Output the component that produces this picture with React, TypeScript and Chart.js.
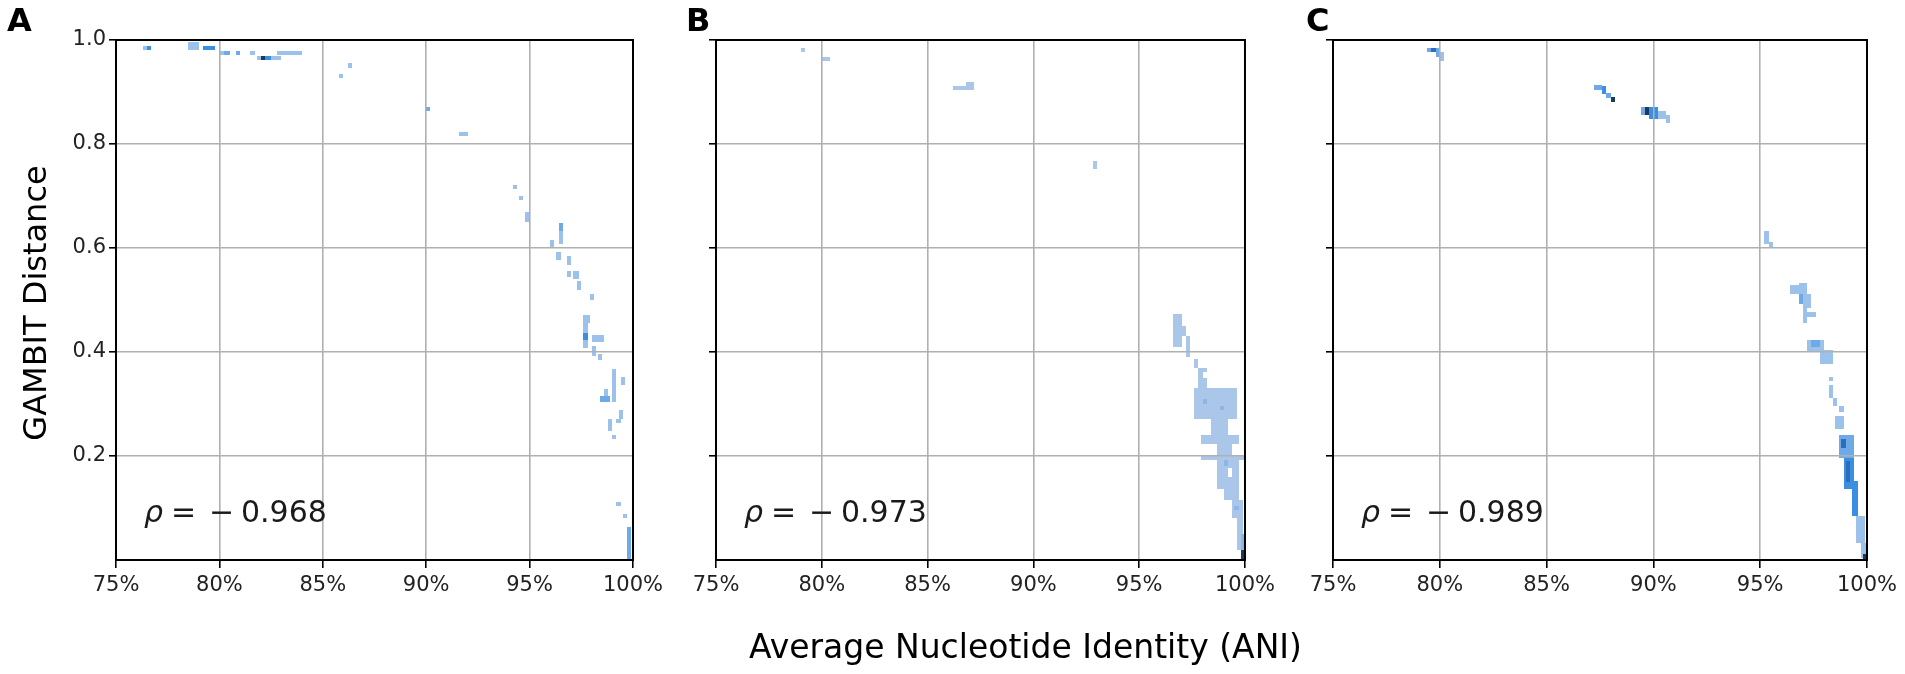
import { useEffect, useRef } from "react";
import { Chart, registerables } from "chart.js";

Chart.register(...registerables);

// ---------------- data ----------------
const xTickValues = [75, 80, 85, 90, 95, 100];
const yTickValues = [0.2, 0.4, 0.6, 0.8, 1.0];
const panelLetters = ["A", "B", "C"];
const rhoValues = [-0.968, -0.973, -0.989];
const yAxisTitle = "GAMBIT Distance";
const xAxisTitle = "Average Nucleotide Identity (ANI)";

// histogram cells: [ANI from, ANI to, distance from, distance to, count level]
const cellsA: number[][] = [
  [76.3, 76.5, 0.98, 0.988, 1],
  [76.5, 76.7, 0.98, 0.988, 3],
  [78.5, 79.0, 0.981, 0.997, 1],
  [79.2, 79.8, 0.981, 0.989, 3],
  [80.0, 80.2, 0.971, 0.979, 1],
  [80.2, 80.5, 0.971, 0.979, 2],
  [80.8, 81.0, 0.971, 0.979, 2],
  [81.5, 81.7, 0.971, 0.979, 1],
  [81.8, 82.0, 0.962, 0.97, 1],
  [82.0, 82.2, 0.962, 0.97, 5],
  [82.2, 82.5, 0.962, 0.97, 3],
  [82.5, 83.0, 0.962, 0.97, 1],
  [82.8, 84.0, 0.971, 0.979, 1],
  [85.8, 86.0, 0.927, 0.935, 1],
  [86.2, 86.4, 0.947, 0.955, 1],
  [90.0, 90.2, 0.864, 0.872, 2],
  [91.6, 92.0, 0.816, 0.824, 1],
  [94.2, 94.4, 0.713, 0.721, 1],
  [94.5, 94.7, 0.692, 0.7, 1],
  [94.8, 95.0, 0.65, 0.67, 1],
  [96.0, 96.2, 0.6, 0.616, 1],
  [96.4, 96.6, 0.632, 0.648, 2],
  [96.4, 96.6, 0.608, 0.632, 1],
  [96.3, 96.5, 0.576, 0.592, 1],
  [96.8, 97.0, 0.568, 0.584, 1],
  [96.8, 97.0, 0.544, 0.556, 1],
  [97.1, 97.4, 0.54, 0.556, 1],
  [97.3, 97.5, 0.52, 0.536, 1],
  [97.9, 98.1, 0.5, 0.512, 1],
  [97.6, 97.9, 0.456, 0.472, 1],
  [97.6, 97.8, 0.408, 0.456, 1],
  [97.6, 97.8, 0.424, 0.436, 3],
  [98.0, 98.6, 0.42, 0.432, 1],
  [98.0, 98.2, 0.392, 0.412, 1],
  [98.3, 98.5, 0.384, 0.396, 1],
  [99.4, 99.6, 0.336, 0.352, 1],
  [99.0, 99.2, 0.304, 0.368, 1],
  [98.4, 98.9, 0.304, 0.316, 2],
  [98.6, 98.8, 0.316, 0.328, 1],
  [99.3, 99.5, 0.272, 0.288, 1],
  [98.8, 99.0, 0.248, 0.272, 1],
  [99.2, 99.4, 0.264, 0.272, 1],
  [99.0, 99.2, 0.232, 0.24, 1],
  [99.2, 99.4, 0.104, 0.112, 1],
  [99.5, 99.7, 0.08, 0.088, 1],
  [99.7, 99.9, 0.0, 0.064, 2],
];

const cellsB: number[][] = [
  [79.0, 79.2, 0.976, 0.984, 1],
  [80.0, 80.4, 0.96, 0.968, 1],
  [86.2, 86.8, 0.904, 0.912, 1],
  [86.8, 87.2, 0.904, 0.92, 1],
  [92.8, 93.0, 0.752, 0.768, 1],
  [96.6, 97.0, 0.41, 0.474, 1],
  [97.0, 97.2, 0.43, 0.45, 1],
  [97.2, 97.4, 0.39, 0.43, 1],
  [97.6, 97.8, 0.37, 0.386, 1],
  [97.8, 98.0, 0.35, 0.37, 1],
  [98.0, 98.2, 0.362, 0.37, 1],
  [97.8, 98.2, 0.33, 0.35, 1],
  [97.6, 99.6, 0.272, 0.33, 1],
  [98.0, 98.2, 0.3, 0.31, 2],
  [98.8, 99.0, 0.288, 0.296, 2],
  [98.4, 99.2, 0.24, 0.272, 1],
  [97.9, 99.7, 0.224, 0.24, 1],
  [98.7, 99.4, 0.2, 0.224, 1],
  [97.9, 100, 0.192, 0.2, 1],
  [98.7, 99.2, 0.136, 0.192, 1],
  [99.2, 99.4, 0.136, 0.16, 1],
  [99.2, 99.4, 0.176, 0.192, 1],
  [99.4, 99.7, 0.136, 0.192, 1],
  [99.0, 99.2, 0.18, 0.192, 2],
  [99.0, 99.7, 0.116, 0.136, 1],
  [99.4, 99.9, 0.08, 0.116, 1],
  [99.5, 99.7, 0.096, 0.104, 2],
  [99.6, 99.9, 0.02, 0.08, 1],
  [99.8, 100, 0.02, 0.05, 2],
  [99.8, 100, 0.0, 0.02, 5],
];

const cellsC: number[][] = [
  [79.4, 79.6, 0.976, 0.984, 2],
  [79.6, 79.8, 0.976, 0.984, 4],
  [79.8, 80.0, 0.968, 0.984, 2],
  [80.0, 80.2, 0.96, 0.976, 1],
  [87.2, 87.6, 0.904, 0.914, 2],
  [87.6, 87.8, 0.896, 0.912, 3],
  [87.8, 88.0, 0.888, 0.898, 2],
  [88.0, 88.2, 0.88, 0.89, 5],
  [89.4, 89.6, 0.856, 0.872, 2],
  [89.6, 89.8, 0.856, 0.872, 5],
  [89.8, 90.2, 0.848, 0.872, 3],
  [90.2, 90.6, 0.848, 0.864, 1],
  [90.6, 90.8, 0.84, 0.856, 1],
  [95.2, 95.4, 0.608, 0.632, 1],
  [95.4, 95.6, 0.6, 0.612, 1],
  [96.4, 96.8, 0.512, 0.528, 1],
  [96.8, 97.2, 0.508, 0.532, 1],
  [96.8, 97.0, 0.492, 0.512, 2],
  [97.0, 97.4, 0.484, 0.512, 1],
  [97.0, 97.2, 0.456, 0.484, 1],
  [97.2, 97.6, 0.468, 0.476, 1],
  [97.2, 98.0, 0.4, 0.424, 1],
  [97.4, 97.8, 0.41, 0.424, 2],
  [97.8, 98.4, 0.376, 0.404, 1],
  [98.2, 98.4, 0.344, 0.352, 1],
  [98.2, 98.4, 0.312, 0.336, 1],
  [98.4, 98.6, 0.296, 0.312, 1],
  [98.7, 98.9, 0.284, 0.296, 1],
  [98.5, 98.9, 0.252, 0.276, 1],
  [98.7, 99.4, 0.196, 0.24, 2],
  [98.8, 99.0, 0.216, 0.232, 4],
  [98.9, 99.4, 0.136, 0.196, 3],
  [99.0, 99.2, 0.15, 0.19, 4],
  [99.3, 99.6, 0.084, 0.152, 3],
  [99.5, 99.9, 0.032, 0.084, 1],
  [99.7, 100, 0.004, 0.032, 1],
  [99.8, 100, 0.0, 0.012, 5],
];

const panelCells = [cellsA, cellsB, cellsC];

// ---------------- styles ----------------
const FONT = "'DejaVu Sans', 'Liberation Sans', sans-serif";
const paletteMain = ["#9cc2ec", "#6eaae8", "#3b8fe2", "#2a6fb8", "#1d3a5c"];
const paletteB = ["#aac6e9", "#8db5e6", "#5d9be0", "#3a77bd", "#1d3a5c"];
const palettes = [paletteMain, paletteB, paletteMain];

const boxes = [
  { left: 0, width: 670, axis: 116, padRight: 37, letterDx: -109 },
  { left: 670, width: 610, axis: 46, padRight: 31, letterDx: -30 },
  { left: 1280, width: 625, axis: 53, padRight: 38, letterDx: -27 },
];

const heatPlugin = {
  id: "heat",
  beforeDatasetsDraw(chart: any, _args: any, opts: any) {
    const { ctx, chartArea } = chart;
    const xs = chart.scales.x;
    const ys = chart.scales.y;
    ctx.save();
    ctx.beginPath();
    ctx.rect(chartArea.left, chartArea.top, chartArea.right - chartArea.left, chartArea.bottom - chartArea.top);
    ctx.clip();
    for (const c of chart.data.datasets[0].data) {
      const x0 = Math.round(xs.getPixelForValue(c.x));
      const x1 = Math.round(xs.getPixelForValue(c.x2));
      const y0 = Math.round(ys.getPixelForValue(c.y));
      const y1 = Math.round(ys.getPixelForValue(c.y2));
      ctx.fillStyle = opts.palette[c.v - 1];
      ctx.fillRect(x0, y1, x1 - x0, y0 - y1);
    }
    ctx.restore();
  },
  afterDraw(chart: any, _args: any, opts: any) {
    const { ctx, chartArea } = chart;
    ctx.save();
    // frame
    ctx.strokeStyle = "#000";
    ctx.lineWidth = 2;
    ctx.strokeRect(chartArea.left, chartArea.top, chartArea.right - chartArea.left, chartArea.bottom - chartArea.top);
    // panel letter
    ctx.fillStyle = "#000";
    ctx.textBaseline = "alphabetic";
    ctx.textAlign = "left";
    ctx.font = `bold 32px ${FONT}`;
    ctx.fillText(opts.letter, chartArea.left + opts.letterDx, 31);
    // y-axis title (first panel only)
    if (opts.yTitle) {
      ctx.save();
      ctx.translate(46, 303);
      ctx.rotate(-Math.PI / 2);
      ctx.textAlign = "center";
      ctx.font = `32px ${FONT}`;
      ctx.fillText(opts.yTitle, 0, 0);
      ctx.restore();
    }
    // correlation annotation
    const x0 = chartArea.left + 28;
    const yb = chartArea.bottom - 38;
    ctx.fillStyle = "#1a1a1a";
    ctx.font = `italic 30px ${FONT}`;
    ctx.fillText("\u03C1", x0, yb);
    ctx.font = `30px ${FONT}`;
    ctx.fillText("=", x0 + 27, yb);
    const v = opts.rho as number;
    if (v < 0) ctx.fillText("\u2212", x0 + 65, yb);
    ctx.fillText(Math.abs(v).toFixed(3), x0 + 97, yb);
    ctx.restore();
  },
};

function Panel({ idx }: { idx: number }) {
  const ref = useRef<HTMLCanvasElement | null>(null);
  const box = boxes[idx];
  useEffect(() => {
    const cells = panelCells[idx];
    const showY = idx === 0;
    const chart = new Chart(ref.current as HTMLCanvasElement, {
      type: "scatter",
      data: {
        datasets: [
          {
            data: cells.map((c) => ({ x: c[0], x2: c[1], y: c[2], y2: c[3], v: c[4] })) as any,
            pointRadius: 0,
            pointHoverRadius: 0,
          },
        ],
      },
      options: {
        responsive: false,
        animation: false,
        events: [],
        layout: { padding: { top: 40, right: box.padRight, left: 0, bottom: 0 } },
        plugins: {
          legend: { display: false },
          tooltip: { enabled: false },
          heat: {
            palette: palettes[idx],
            letter: panelLetters[idx],
            letterDx: box.letterDx,
            rho: rhoValues[idx],
            yTitle: showY ? yAxisTitle : "",
          },
        } as any,
        scales: {
          x: {
            type: "linear",
            min: 75,
            max: 100,
            afterBuildTicks: (s: any) => {
              s.ticks = xTickValues.map((v) => ({ value: v }));
            },
            afterFit: (s: any) => {
              s.height = 114;
            },
            ticks: {
              callback: (v: any) => `${v}%`,
              font: { family: FONT, size: 21 },
              color: "#222",
              padding: 5,
              maxRotation: 0,
              autoSkip: false,
            },
            grid: {
              color: "#b0b0b0",
              lineWidth: 1.6,
              tickLength: 8,
              tickColor: "#000",
              tickWidth: 1.6,
              z: 1,
            },
            border: { display: false },
          },
          y: {
            type: "linear",
            min: 0,
            max: 1,
            afterBuildTicks: (s: any) => {
              s.ticks = yTickValues.map((v) => ({ value: v }));
            },
            afterFit: (s: any) => {
              s.width = box.axis;
            },
            ticks: {
              callback: (v: any) => (showY ? Number(v).toFixed(1) : ""),
              font: { family: FONT, size: 21 },
              color: "#222",
              padding: 3,
            },
            grid: {
              color: "#b0b0b0",
              lineWidth: 1.6,
              tickLength: 7,
              tickColor: "#000",
              tickWidth: 1.6,
              z: 1,
            },
            border: { display: false },
          },
        },
      },
      plugins: [heatPlugin as any],
    });
    return () => chart.destroy();
  }, [idx]);
  return (
    <canvas
      ref={ref}
      width={box.width}
      height={674}
      style={{ position: "absolute", left: box.left, top: 0, width: box.width, height: 674 }}
    />
  );
}

export default function App() {
  useEffect(() => {
    document.body.style.margin = "0";
    document.body.style.overflow = "hidden";
  }, []);
  return (
    <div style={{ position: "absolute", left: 0, top: 0, width: 1905, height: 674, background: "#fff", overflow: "hidden" }}>
      {panelLetters.map((_, i) => (
        <Panel key={i} idx={i} />
      ))}
      <div
        style={{
          position: "absolute",
          left: 749,
          top: 630,
          font: `33px ${FONT}`,
          lineHeight: "33px",
          whiteSpace: "nowrap",
          color: "#000",
        }}
      >
        {xAxisTitle}
      </div>
    </div>
  );
}
